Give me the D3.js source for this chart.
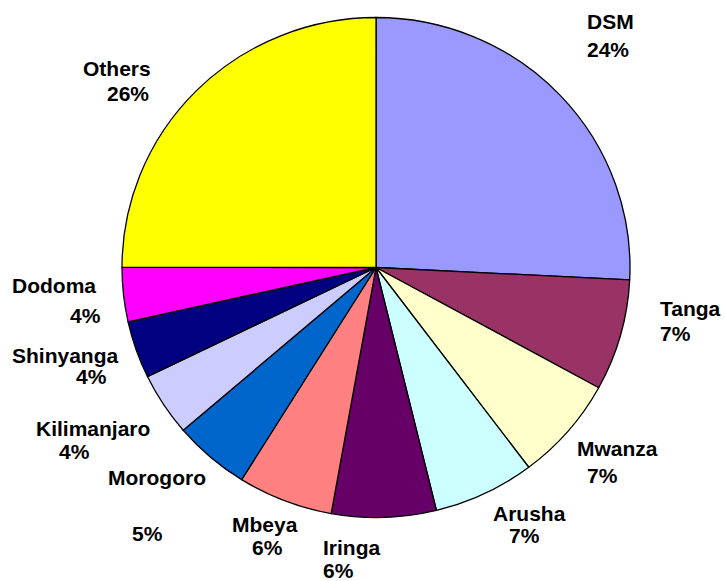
<!DOCTYPE html>
<html>
<head>
<meta charset="utf-8">
<script src="https://cdn.jsdelivr.net/npm/d3@7"></script>
<style>
    html, body { margin: 0; padding: 0; background: #fff; }
    svg { display: block; }
    .slice-label { font-family: Arial, "Liberation Sans", sans-serif; font-weight: bold; font-size: 21px; fill: #000; }
</style>
</head>
<body>
<div id="chart"></div>
<script>
// ===== Data =====
const regions = ['DSM', 'Tanga', 'Mwanza', 'Arusha', 'Iringa', 'Mbeya', 'Morogoro',
    'Kilimanjaro', 'Shinyanga', 'Dodoma', 'Others'];
const shares = [25.8, 7.2, 6.75, 6.45, 6.65, 6.05, 4.85, 4.1, 3.7, 3.5, 25];
const pctLabels = ['24%', '7%', '7%', '7%', '6%', '6%', '5%', '4%', '4%', '4%', '26%'];
const sliceColors = ['#9999ff', '#993366', '#ffffcc', '#ccffff', '#660066', '#ff8080',
    '#0066cc', '#ccccff', '#000080', '#ff00ff', '#ffff00'];

// ===== Layout =====
const W = 725, H = 581;
const cx = 376, cy = 267.5;
const rx = 254, ry = 250;

// label placement (left edge, baseline) for name line and percent line
const labelLayout = [
    { name: [587, 29],  pct: [587, 57] },
    { name: [660, 316], pct: [660, 341] },
    { name: [577, 456], pct: [587, 483] },
    { name: [493, 521], pct: [509, 543] },
    { name: [323, 555], pct: [323, 578] },
    { name: [232, 532], pct: [252, 555] },
    { name: [108, 485], pct: [132, 541] },
    { name: [36, 436],  pct: [59, 459] },
    { name: [12, 363],  pct: [76, 384] },
    { name: [12, 293],  pct: [70, 323] },
    { name: [83, 76],   pct: [107, 101] }
];

const data = regions.map((r, i) => ({ region: r, value: shares[i], pct: pctLabels[i], color: sliceColors[i] }));

const svg = d3.select('#chart').append('svg')
    .attr('width', W)
    .attr('height', H);

const pie = d3.pie()
    .sort(null)
    .value(d => d.value);

const arc = d3.arc()
    .innerRadius(0)
    .outerRadius(ry);

// slightly wider than tall, like the original
const g = svg.append('g')
    .attr('transform', `translate(${cx},${cy}) scale(${rx / ry},1)`);

g.selectAll('path.slice')
    .data(pie(data))
    .enter()
    .append('path')
    .attr('class', 'slice')
    .attr('d', arc)
    .attr('fill', d => d.data.color)
    .attr('stroke', '#000')
    .attr('stroke-width', 1.3)
    .attr('stroke-linejoin', 'round')
    .attr('vector-effect', 'non-scaling-stroke');

// ===== Labels =====
const labels = svg.append('g');
data.forEach((d, i) => {
    const pos = labelLayout[i];
    labels.append('text')
        .attr('class', 'slice-label')
        .attr('x', pos.name[0])
        .attr('y', pos.name[1])
        .text(d.region);
    labels.append('text')
        .attr('class', 'slice-label')
        .attr('x', pos.pct[0])
        .attr('y', pos.pct[1])
        .text(d.pct);
});
</script>
</body>
</html>
